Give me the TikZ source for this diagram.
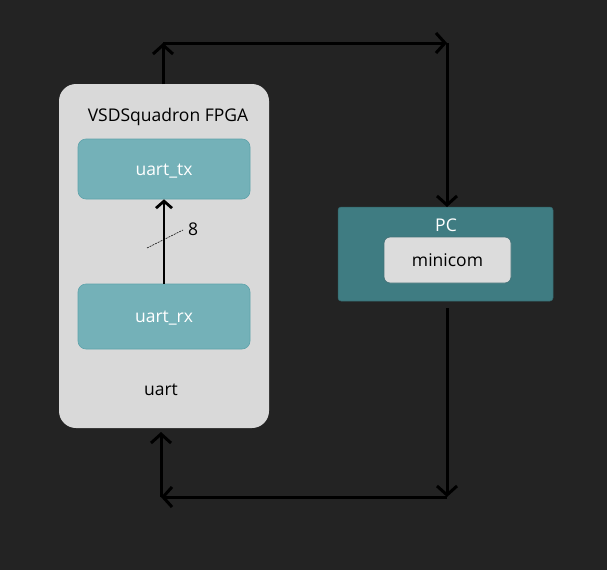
\documentclass[tikz,border=0pt]{standalone}
\usepackage{fontspec}
\setmainfont{Open Sans}
\usetikzlibrary{arrows.meta}
\definecolor{bg}{HTML}{232323}
\definecolor{fpga}{HTML}{D9D9D9}
\definecolor{mod}{HTML}{74B1B8}
\definecolor{modb}{HTML}{5FA3AB}
\definecolor{pc}{HTML}{3F7C82}
\definecolor{mini}{HTML}{DCDCDC}
\newcommand{\lowtext}[1]{\raisebox{-6pt}[0pt][0pt]{#1}}
\tikzset{
  wire/.style={line width=3pt, black, -{Straight Barb[length=9pt,width=20pt,line width=3pt]}},
  lbl/.style={font=\fontsize{17.5}{20}\selectfont},
  modbox/.style={draw=modb, line width=0.6pt, fill=mod, rounded corners=8pt, text=white, lbl},
}
\begin{document}
\begin{tikzpicture}[x=1pt,y=-1pt]
\fill[bg] (0,0) rectangle (607,570);
\useasboundingbox (0,0) rectangle (607,570);
% FPGA box
\node[fill=fpga, rounded corners=17pt, minimum width=210pt, minimum height=344pt, inner sep=0pt] (fpga) at (164,256) {};
\node[lbl, text=black] (fpgalbl) at (168,117) {VSDSquadron FPGA};
\node[modbox, minimum width=172pt, minimum height=60pt, inner sep=0pt] (tx) at (164,169) {\lowtext{uart\_tx}};
\node[modbox, minimum width=172pt, minimum height=65pt, inner sep=0pt] (rx) at (164,316.5) {\lowtext{uart\_rx}};
\node[lbl, text=black] (uartlbl) at (161,390) {uart};
% internal bus
\draw[line width=2.8pt, -{Straight Barb[length=7pt,width=16pt,line width=2.8pt]}] (rx.north) -- (tx.south);
\coordinate (s1) at (147,248);
\coordinate (s2) at (183,230);
\draw[dashed, dash pattern=on 2pt off 1pt, line width=0.6pt] (s1) -- (s2);
\node[lbl] (eight) at (193,229) {8};
% PC box
\node[fill=pc, draw=pc!80!black, line width=0.5pt, rounded corners=3pt, minimum width=215pt, minimum height=94pt, inner sep=0pt] (pc) at (445.5,254) {};
\node[lbl, text=white] (pclbl) at (446,225) {PC};
\node[fill=mini, draw=modb!70!black, line width=0.8pt, rounded corners=6pt, minimum width=127pt, minimum height=46pt, inner sep=0pt, lbl, text=black] (minicom) at (447.5,260) {\lowtext{minicom}};
% top wires
\coordinate (t1) at (163,43);
\coordinate (t2) at (447,43);
\coordinate (fpgatop) at (163,84);
\draw[wire] (fpgatop) -- (t1);
\draw[wire] (t1) -- (t2);
\draw[wire] (t2) -- (447,207) coordinate (pctop);
% bottom wires
\coordinate (pcbot) at (447,308);
\coordinate (b1) at (447,497);
\coordinate (b2) at (161,497);
\coordinate (fpgabot) at (161,432);
\draw[wire] (pcbot) -- (b1);
\draw[wire] (b1) -- (b2);
\draw[wire] (b2) -- (fpgabot);
\end{tikzpicture}
\end{document}
